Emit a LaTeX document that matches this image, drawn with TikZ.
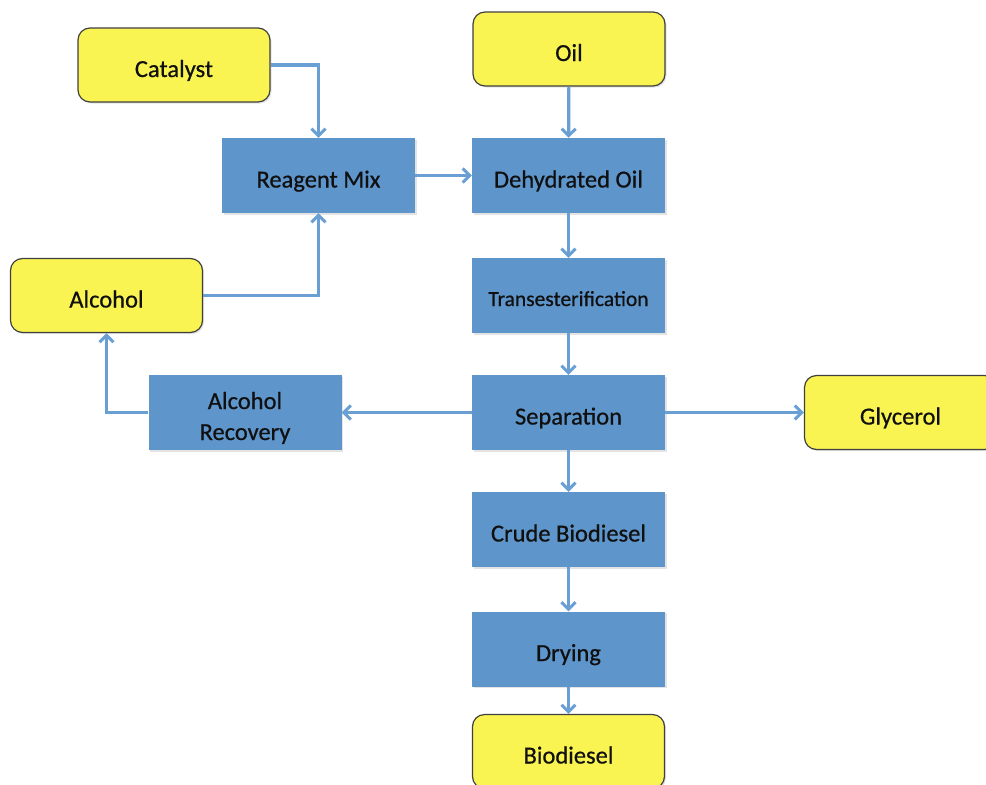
\documentclass[tikz,border=0pt]{standalone}
\usepackage{fontspec}
\setmainfont{Carlito}[BoldFont=Carlito, BoldFeatures={FakeBold=0.6}]
\usetikzlibrary{arrows.meta,shadows}
\definecolor{procblue}{HTML}{5E95CB}
\definecolor{flowblue}{HTML}{6A9FD4}
\definecolor{feedyellow}{HTML}{FAF452}
\definecolor{labeltext}{HTML}{101010}
\begin{document}
\begin{tikzpicture}[x=1pt,y=-1pt,
  boxshadow/.style={drop shadow={opacity=0.22,shadow xshift=1.5pt,shadow yshift=-1.5pt}},
  boxtext/.style={align=center, text=labeltext, text height=24pt, text depth=0pt,
    font=\fontsize{24.5}{31}\selectfont\bfseries},
  proc/.style={rectangle, fill=procblue, minimum width=193pt, minimum height=75pt,
    inner sep=0pt, boxtext, boxshadow},
  feed/.style={rectangle, rounded corners=12pt, fill=feedyellow, draw=black!75,
    line width=1.2pt, minimum width=192pt, minimum height=74pt, inner sep=0pt,
    boxtext, boxshadow},
  flow/.style={draw=flowblue, line width=3.2pt,
    -{Straight Barb[length=7pt,width=14pt,line width=3pt]}}
]
\useasboundingbox (0,0) rectangle (986,785);

% feedstocks and products
\node[feed] (catalyst)  at (174,65)    {Catalyst};
\node[feed] (oil)       at (569,49)    {Oil};
\node[feed] (alcohol)   at (106.5,295.5) {Alcohol};
\node[feed] (glycerol)  at (900.5,412.5) {Glycerol};
\node[feed] (biodiesel) at (568.5,751.5) {Biodiesel};

% process steps
\node[proc] (reagent)  at (318.5,175.5) {Reagent Mix};
\node[proc, font=\fontsize{21.5}{26}\selectfont\bfseries, text height=21pt] (trans) at (568.5,295.5) {Transesterification};
\node[proc, text height=55pt] (recovery) at (245,412.5) {Alcohol\\Recovery};
\node[proc] (sep)      at (568.5,412.5) {Separation};
\node[proc] (dehyd)    at (568.5,175.5) {Dehydrated Oil};
\node[proc] (crude)    at (568.5,529.5) {Crude Biodiesel};
\node[proc] (drying)   at (568.5,649)   {Drying};

% flows
\draw[flow] (catalyst.east) -| (reagent.north);
\draw[flow] (alcohol.east) -| (reagent.south);
\draw[flow] (oil) -- (dehyd);
\draw[flow] (reagent) -- (dehyd);
\draw[flow] (dehyd) -- (trans);
\draw[flow] (trans) -- (sep);
\draw[flow] (sep) -- (recovery);
\draw[flow] (sep) -- (glycerol);
\draw[flow] (recovery.west) -| (alcohol.south);
\draw[flow] (sep) -- (crude);
\draw[flow] (crude) -- (drying);
\draw[flow] (drying) -- (biodiesel);
\end{tikzpicture}
\end{document}
